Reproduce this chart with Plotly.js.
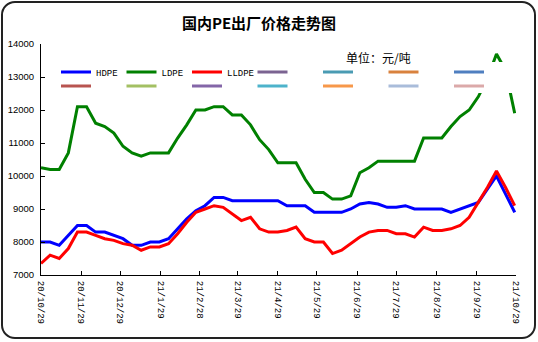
<!DOCTYPE html>
<html><head><meta charset="utf-8">
<script src="https://cdn.plot.ly/plotly-3.0.1.min.js"></script>
<style>
html,body{margin:0;padding:0;background:#fff;}
#wrap{position:relative;width:538px;height:342px;}
#chart{position:absolute;left:0;top:0;width:538px;height:342px;}
#frame{position:absolute;left:1px;top:1px;width:535px;height:338px;box-sizing:border-box;border:2px solid #222;border-radius:14px;pointer-events:none;}
</style></head>
<body><div id="wrap"><div id="chart"></div><div id="frame"></div></div>
<script>
const dates = ['2020-10-29','2020-11-05','2020-11-12','2020-11-19','2020-11-26','2020-12-03','2020-12-10','2020-12-17','2020-12-24','2020-12-31',
 '2021-01-07','2021-01-14','2021-01-21','2021-01-28','2021-02-04','2021-02-11','2021-02-18','2021-02-25','2021-03-04','2021-03-11',
 '2021-03-18','2021-03-25','2021-04-01','2021-04-08','2021-04-15','2021-04-22','2021-04-29','2021-05-06','2021-05-13','2021-05-20',
 '2021-05-27','2021-06-03','2021-06-10','2021-06-17','2021-06-24','2021-07-01','2021-07-08','2021-07-15','2021-07-22','2021-07-29',
 '2021-08-05','2021-08-12','2021-08-19','2021-08-26','2021-09-02','2021-09-09','2021-09-16','2021-09-23','2021-09-30','2021-10-07',
 '2021-10-14','2021-10-21','2021-10-28'];
const hdpe = [8000,8000,7900,8200,8500,8500,8300,8300,8200,8100,
 7900,7900,8000,8000,8100,8400,8700,8950,9100,9350,
 9350,9250,9250,9250,9250,9250,9250,9100,9100,9100,
 8900,8900,8900,8900,9000,9150,9200,9150,9050,9050,
 9100,9000,9000,9000,9000,8900,9000,9100,9200,9600,
 10000,9450,8900];
const ldpe = [10250,10200,10200,10700,12100,12100,11600,11500,11300,10900,
 10700,10600,10700,10700,10700,11150,11550,12000,12000,12100,
 12100,11850,11850,11550,11100,10800,10400,10400,10400,9900,
 9500,9500,9300,9300,9400,10100,10250,10450,10450,10450,
 10450,10450,11150,11150,11150,11500,11800,12000,12400,12950,
 13700,13200,11900];
const lldpe = [7350,7600,7500,7800,8300,8300,8200,8100,8050,7950,
 7900,7750,7850,7850,7950,8250,8600,8900,9000,9100,
 9050,8850,8650,8750,8400,8300,8300,8350,8450,8100,
 8000,8000,7650,7750,7950,8150,8300,8350,8350,8250,
 8250,8150,8450,8350,8350,8400,8500,8750,9200,9650,
 10150,9650,9100];
const seriesNames = ['HDPE','LDPE','LLDPE'];
const seriesColors = ['#0000FF','#008000','#FF0000'];
const blankColorsRow1 = ['#7B6391','#4A9BB3','#D9823E','#4F7FC0'];
const blankColorsRow2 = ['#B85450','#A3C063','#8466A8','#4DB3CB','#F7984A','#A9BCDA','#DBA9A9'];
const tickDates = ['2020-10-29','2020-11-29','2020-12-29','2021-01-29','2021-02-28','2021-03-29','2021-04-29','2021-05-29','2021-06-29','2021-07-29','2021-08-29','2021-09-29','2021-10-29'];
const tickLabels = ['20/10/29','20/11/29','20/12/29','21/1/29','21/2/28','21/3/29','21/4/29','21/5/29','21/6/29','21/7/29','21/8/29','21/9/29','21/10/29'];
const yTicks = [7000,8000,9000,10000,11000,12000,13000,14000];
const yLabels = ['7000','8000','9000','10000','11000','12000','13000','14000'];

const seriesData = [hdpe, ldpe, lldpe];
const traces = [];
seriesData.forEach((ys, i) => {
  traces.push({type:'scatter', mode:'lines', x:dates, y:ys, name:seriesNames[i],
    line:{color:seriesColors[i], width:3}, legend:'legend', hoverinfo:'skip'});
});
blankColorsRow1.forEach(c => traces.push({type:'scatter', mode:'lines', x:[dates[0]], y:[null],
  name:' ', line:{color:c, width:3}, legend:'legend', showlegend:true}));
blankColorsRow2.forEach(c => traces.push({type:'scatter', mode:'lines', x:[dates[0]], y:[null],
  name:' ', line:{color:c, width:3}, legend:'legend2', showlegend:true}));

// pixel helpers for layout placement (plot area: left 41, width 475, top 44, height 231)
const px = v => (v - 41) / 475;
const py = v => (275 - v) / 231;
const legFont = {family:'Liberation Mono, monospace', size:9, color:'#000'};
const layout = {
  width:538, height:342,
  margin:{l:41, r:22, t:44, b:67},
  paper_bgcolor:'#fff', plot_bgcolor:'#fff',
  title:{text:'<b>国内PE出厂价格走势图</b>', x:259/538, xanchor:'center', y:1-24/342, yanchor:'middle',
    font:{family:'Noto Sans CJK SC, sans-serif', size:15, color:'#000'}},
  xaxis:{type:'date', range:['2020-10-29','2021-10-29'], tickvals:tickDates, ticktext:tickLabels,
    tickangle:90, ticks:'inside', ticklen:4, tickcolor:'#000', showline:true, linecolor:'#000', linewidth:1,
    showgrid:false, zeroline:false, fixedrange:true, ticklabelstandoff:3,
    tickfont:{family:'Liberation Mono, monospace', size:9, color:'#000'}},
  yaxis:{range:[7000,14000], tickvals:yTicks, ticktext:yLabels, ticks:'inside', ticklen:4, tickcolor:'#000',
    showline:true, linecolor:'#000', linewidth:1, showgrid:false, zeroline:false, fixedrange:true,
    ticklabelstandoff:4,
    tickfont:{family:'Liberation Sans, Arial, sans-serif', size:9.5, color:'#000'}},
  showlegend:true,
  legend:{orientation:'h', x:px(56), xanchor:'left', y:py(72), yanchor:'middle',
    bgcolor:'rgba(0,0,0,0)', borderwidth:0, font:legFont, entrywidth:20.5, entrywidthmode:'pixels',
    traceorder:'normal'},
  legend2:{orientation:'h', x:px(56), xanchor:'left', y:py(86), yanchor:'middle',
    bgcolor:'rgba(0,0,0,0)', borderwidth:0, font:legFont, entrywidth:20.5, entrywidthmode:'pixels',
    traceorder:'normal'},
  shapes:[{type:'rect', xref:'paper', yref:'paper', x0:px(54), x1:px(519), y0:py(93), y1:py(62),
    fillcolor:'#fff', line:{width:0}, layer:'above'}],
  annotations:[{text:'单位：元/吨', xref:'paper', yref:'paper', x:px(378), y:py(57),
    xanchor:'center', yanchor:'middle', showarrow:false,
    font:{family:'Noto Sans CJK SC, sans-serif', size:12, color:'#000'}}]
};
Plotly.newPlot('chart', traces, layout, {staticPlot:true, displayModeBar:false});
</script>
</body></html>
